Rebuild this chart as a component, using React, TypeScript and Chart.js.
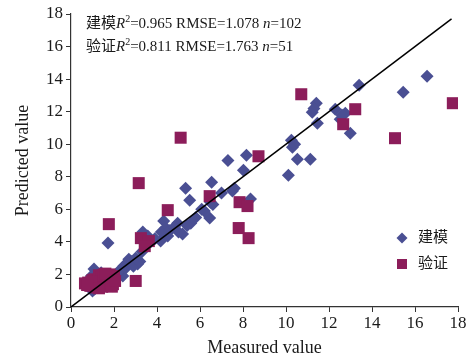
import React, { useEffect, useRef } from "react";
import { Chart, registerables } from "chart.js";

Chart.register(...registerables);

// 建模 (calibration) points
const calX = [
  16.56, 15.45, 13.4, 11.41, 11.22, 12.29, 12.76, 12.52, 11.46, 12.99, 10.25, 10.3, 10.53, 11.13, 10.11,
  8.16, 7.3, 8.02, 7.51, 8.35, 5.33, 6.54, 5.52, 6.08, 6.49, 6.45, 5.57, 4.96, 4.31, 4.41, 4.5, 5.19, 4.17, 3.34, 3.57,
  1.72, 1.07, 1.0, 2.46, 2.69, 3.1, 2.41,
  0.9, 1.0, 1.1, 1.15, 1.2, 1.25, 1.3, 1.35, 1.4, 1.45, 1.5, 1.55, 1.6, 1.65, 1.7, 1.75, 1.8, 1.85, 1.9, 1.95, 2.0,
  0.85, 0.95, 1.05, 1.15, 1.25, 1.35, 1.45, 1.55, 1.65, 1.75, 1.85, 1.95, 1.1, 1.4,
  2.2, 2.3, 2.55, 2.6, 2.8, 2.9, 3.0, 3.2, 3.3, 3.5, 3.7, 3.9,
  4.2, 4.6, 4.8, 5.0, 5.4, 5.8, 6.2, 6.6,
  7.0, 7.6, 10.4, 11.3, 12.6,
];
const calY = [
  14.17, 13.19, 13.62, 12.52, 11.96, 12.15, 11.9, 11.53, 11.29, 10.67, 10.25, 9.82, 9.08, 9.08, 8.1,
  9.33, 9.0, 8.4, 7.12, 6.63, 7.3, 7.67, 6.56, 6.01, 6.44, 5.46, 5.15, 5.15, 5.28, 4.85, 4.36, 4.48, 4.05, 4.6, 4.36,
  3.93, 2.33, 0.98, 2.52, 2.94, 2.64, 1.9,
  1.2, 1.5, 1.1, 1.8, 1.4, 2.0, 1.25, 1.6, 1.9, 1.45, 1.2, 1.75, 1.5, 2.0, 1.3, 1.65, 1.9, 1.45, 1.65, 1.95, 1.5,
  1.6, 1.9, 1.3, 1.55, 1.7, 1.35, 1.75, 1.3, 1.6, 1.4, 1.75, 1.3, 2.05, 2.1,
  2.1, 2.3, 2.4, 2.7, 2.8, 2.5, 3.0, 2.8, 3.4, 3.9, 4.0, 4.2,
  4.6, 4.7, 4.9, 4.6, 5.0, 5.5, 5.9, 6.3,
  7.0, 7.3, 10.0, 12.2, 11.8,
];

// 验证 (validation) points
const valX = [
  10.71, 13.22, 12.66, 15.07, 17.76, 8.72, 7.84, 8.21, 3.15, 4.5, 6.45, 3.25, 3.62, 3.43, 5.1, 1.76, 3.01, 7.8, 8.26,
  0.65, 0.8, 0.9, 1.0, 1.05, 1.1, 1.2, 1.25, 1.3, 1.35, 1.4, 1.45, 1.5, 1.55, 1.6, 1.65, 1.7, 1.75, 1.8, 1.85, 1.9,
  1.95, 2.0, 1.15, 0.95, 1.5, 1.7, 1.3, 0.75, 1.6, 1.9, 2.05,
];
const valY = [
  13.07, 12.15, 11.23, 10.37, 12.52, 9.26, 6.44, 6.2, 7.61, 5.95, 6.81, 4.23, 4.05, 3.74, 10.4, 5.09, 1.6, 4.85, 4.23,
  1.45, 1.5, 1.3, 1.65, 1.5, 1.7, 1.35, 1.65, 1.95, 1.5, 1.8, 1.25, 1.55, 2.0, 1.4, 1.7, 1.85, 1.3, 2.0, 1.55, 1.75,
  1.4, 1.9, 1.2, 1.55, 1.95, 1.5, 1.15, 1.35, 2.05, 1.25, 1.6,
];

// 1:1 line
const lineX = [0, 17.7];
const lineY = [0, 17.7];

const axisMin = 0;
const axisMax = 18;
const axisStep = 2;

const seriesNames = ["建模", "验证"];
const statsR2 = ["0.965", "0.811"];
const statsRMSE = ["1.078", "1.763"];
const statsN = ["102", "51"];
const xTitle = "Measured value";
const yTitle = "Predicted value";

const BLUE = "#4a4f93";
const MAROON = "#8c1d5a";
const SERIF = '"Liberation Serif", "Noto Sans CJK SC", serif';

const toPts = (xs: number[], ys: number[]) => xs.map((x, i) => ({ x, y: ys[i] }));

function drawRuns(ctx: CanvasRenderingContext2D, x: number, y: number, runs: { t: string; f: string; dy?: number }[]) {
  let cx = x;
  for (const r of runs) {
    ctx.font = r.f;
    ctx.fillText(r.t, cx, y + (r.dy || 0));
    cx += ctx.measureText(r.t).width;
  }
}

const overlay = {
  id: "overlay",
  afterDraw(chart: any) {
    const ctx: CanvasRenderingContext2D = chart.ctx;
    const { left, right, top, bottom } = chart.chartArea;
    ctx.save();
    ctx.fillStyle = "#1a1a1a";
    ctx.textBaseline = "middle";
    ctx.textAlign = "left";
    const base = `15px ${SERIF}`;
    const ital = `italic 15px ${SERIF}`;
    const sup = `10px ${SERIF}`;
    for (let i = 0; i < 2; i++) {
      drawRuns(ctx, left + 15, top + 10 + i * 23, [
        { t: seriesNames[i], f: base },
        { t: "R", f: ital },
        { t: "2", f: sup, dy: -5 },
        { t: `=${statsR2[i]} RMSE=${statsRMSE[i]} `, f: base },
        { t: "n", f: ital },
        { t: `=${statsN[i]}`, f: base },
      ]);
    }
    // legend
    const lx = 402;
    const ly = [238, 264];
    ctx.fillStyle = BLUE;
    ctx.beginPath();
    ctx.moveTo(lx - 5.5, ly[0]);
    ctx.lineTo(lx, ly[0] - 5.5);
    ctx.lineTo(lx + 5.5, ly[0]);
    ctx.lineTo(lx, ly[0] + 5.5);
    ctx.closePath();
    ctx.fill();
    ctx.fillStyle = MAROON;
    ctx.fillRect(lx - 5, ly[1] - 5, 10, 10);
    ctx.fillStyle = "#1a1a1a";
    ctx.font = `15px ${SERIF}`;
    ctx.fillText(seriesNames[0], lx + 16, ly[0]);
    ctx.fillText(seriesNames[1], lx + 16, ly[1]);
    // axis titles
    ctx.font = `18px ${SERIF}`;
    ctx.textAlign = "center";
    ctx.fillText(xTitle, (left + right) / 2, 348);
    ctx.save();
    ctx.translate(23, (top + bottom) / 2);
    ctx.rotate(-Math.PI / 2);
    ctx.fillText(yTitle, 0, 0);
    ctx.restore();
    ctx.restore();
  },
};

export default function App() {
  const ref = useRef<HTMLCanvasElement>(null);
  useEffect(() => {
    document.body.style.margin = "0";
    const tickFont = { family: SERIF, size: 17 };
    const chart = new Chart(ref.current!, {
      type: "scatter",
      data: {
        datasets: [
          {
            label: seriesNames[0],
            data: toPts(calX, calY),
            pointStyle: "rectRot",
            pointRadius: 6.5,
            pointBackgroundColor: BLUE,
            pointBorderColor: BLUE,
            pointBorderWidth: 0,
            order: 2,
          } as any,
          {
            label: seriesNames[1],
            data: toPts(valX, valY),
            pointStyle: "rect",
            pointRadius: 8.5,
            pointBackgroundColor: MAROON,
            pointBorderColor: MAROON,
            pointBorderWidth: 0,
            order: 1,
          } as any,
          {
            type: "line",
            label: "1:1",
            data: toPts(lineX, lineY),
            borderColor: "#000",
            borderWidth: 1.5,
            pointRadius: 0,
            showLine: true,
            fill: false,
            order: 0,
          } as any,
        ],
      },
      options: {
        responsive: false,
        animation: false,
        layout: { padding: { top: 14, right: 17, left: 0, bottom: 0 } },
        plugins: { legend: { display: false }, tooltip: { enabled: false } },
        scales: {
          x: {
            type: "linear",
            min: axisMin,
            max: axisMax,
            ticks: { stepSize: axisStep, font: tickFont, color: "#1a1a1a", padding: 1, maxRotation: 0 },
            grid: { display: true, drawOnChartArea: false, drawTicks: true, tickLength: 5, color: "#333" },
            border: { display: true, color: "#333", width: 1.2 },
            afterFit: (s: any) => { s.height = 53; },
          },
          y: {
            type: "linear",
            min: axisMin,
            max: axisMax,
            ticks: { stepSize: axisStep, font: tickFont, color: "#1a1a1a", padding: 3 },
            grid: { display: true, drawOnChartArea: false, drawTicks: true, tickLength: 5, color: "#333" },
            border: { display: true, color: "#333", width: 1.2 },
            afterFit: (s: any) => { s.width = 71; },
          },
        },
      },
      plugins: [overlay],
    });
    return () => chart.destroy();
  }, []);
  return (
    <div style={{ position: "absolute", left: 0, top: 0, width: 475, height: 360, background: "#fff" }}>
      <canvas ref={ref} width={475} height={360} />
    </div>
  );
}
